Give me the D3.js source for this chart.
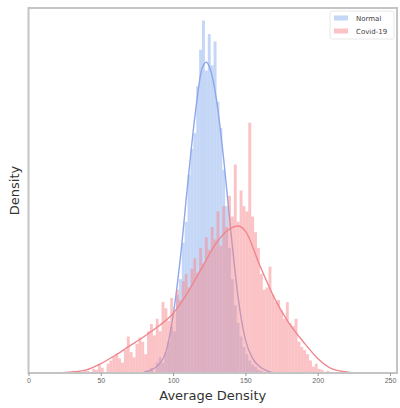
<!DOCTYPE html>
<html>
<head>
<meta charset="utf-8">
<script src="https://cdn.jsdelivr.net/npm/d3@7"></script>
<style>
  html, body { margin: 0; padding: 0; background: #fff; }
  svg { display: block; font-family: "DejaVu Sans", sans-serif; }
</style>
</head>
<body>
<svg id="chart" width="400" height="408"></svg>
<script>
const BIN_WIDTH = 2

// histogram bins: left edge of bin and density
const normalBinStarts = [84, 86, 88, 90, 92, 94, 96, 98, 100, 102, 104, 106, 108, 110, 112, 114, 116, 118, 120, 122,
  124, 126, 128, 130, 132, 134, 136, 138, 140, 142, 144, 146, 148, 150, 152, 154, 156, 158, 160, 162]
const normalBinDensity = [0.0005, 0.0, 0.001, 0.0015, 0.001, 0.002, 0.003, 0.0045, 0.004, 0.0075, 0.009, 0.0125, 0.0145, 0.019, 0.0215, 0.023, 0.0275, 0.031, 0.0338, 0.029,
  0.0325, 0.0295, 0.0318, 0.026, 0.0235, 0.0195, 0.016, 0.012, 0.009, 0.0065, 0.0048, 0.0035, 0.0025, 0.0018, 0.0012, 0.0008, 0.0006, 0.0003, 0.0002, 0.0001]

const covidBinStarts = [30, 32, 34, 36, 38, 40, 42, 44, 46, 48, 50, 52, 54, 56, 58, 60, 62, 64, 66, 68,
  70, 72, 74, 76, 78, 80, 82, 84, 86, 88, 90, 92, 94, 96, 98, 100, 102, 104, 106, 108,
  110, 112, 114, 116, 118, 120, 122, 124, 126, 128, 130, 132, 134, 136, 138, 140, 142, 144, 146, 148,
  150, 152, 154, 156, 158, 160, 162, 164, 166, 168, 170, 172, 174, 176, 178, 180, 182, 184, 186, 188,
  190, 192, 194, 196, 198, 200, 202, 204, 206, 208, 210, 212]
const covidBinDensity = [0.0002, 0, 0.0002, 0, 0.0003, 0.0002, 0, 0.0004, 0.0003, 0.0008, 0.0005, 0, 0.0009, 0.0012, 0.0016, 0.0018, 0.0014, 0.001, 0.0022, 0.0035,
  0.002, 0.0015, 0.0028, 0.0034, 0.003, 0.0018, 0.004, 0.0047, 0.0036, 0.0052, 0.004, 0.0068, 0.0062, 0.005, 0.0072, 0.0058, 0.008, 0.007, 0.0088, 0.0095,
  0.0082, 0.01, 0.011, 0.0096, 0.012, 0.0105, 0.013, 0.0118, 0.014, 0.0128, 0.0155, 0.0122, 0.016, 0.014, 0.017, 0.015, 0.02, 0.0145, 0.0175, 0.016,
  0.0155, 0.024, 0.015, 0.0135, 0.012, 0.0095, 0.008, 0.0082, 0.0102, 0.0075, 0.0068, 0.007, 0.006, 0.0052, 0.0068, 0.0048, 0.0045, 0.0052, 0.003, 0.0025,
  0.0022, 0.0018, 0.0012, 0.0006, 0.0009, 0.0004, 0.0003, 0, 0.0002, 0.0001, 0, 0.0001]

// kde curves
const normalKdeX = [80, 85, 90, 95, 100, 105, 110, 115, 120, 123, 126, 130, 135, 140, 145, 150, 155, 160, 165, 170]
const normalKdeY = [0.0001, 0.0003, 0.0008, 0.002, 0.0055, 0.011, 0.018, 0.0245, 0.0292, 0.0298, 0.029, 0.0262, 0.0205, 0.0135, 0.0072, 0.0032, 0.0014, 0.0006, 0.0002, 0.0]

const covidKdeX = [20, 30, 40, 50, 60, 70, 80, 90, 100, 110, 120, 130, 140, 145, 150, 160, 170, 180, 190, 200, 210, 220, 225]
const covidKdeY = [0.0, 0.0001, 0.0003, 0.0009, 0.0017, 0.0026, 0.0035, 0.0045, 0.0057, 0.0077, 0.0101, 0.0125, 0.0139, 0.0141, 0.0136, 0.0103, 0.0072, 0.0048, 0.003, 0.0014, 0.0004, 0.0001, 0]

const xTicks = [0, 50, 100, 150, 200, 250]
const seriesNames = ["Normal", "Covid-19"]

const colors = {
  normalBar: "#8cb0f0",
  normalLine: "#8ea6ea",
  covidBar: "#f7878b",
  covidLine: "#f0868e"
}

const svg = d3.select("#chart")
const plot = { left: 28.5, right: 397, top: 8, bottom: 373 }

const scaleX = d3.scaleLinear().domain([0, 250]).range([plot.left, 390])
const scaleY = d3.scaleLinear().domain([0, 0.035]).range([plot.bottom, plot.top])

const g = svg.append("g")
g.append("defs").append("clipPath").attr("id", "clip")
  .append("rect")
  .attr("x", plot.left).attr("y", plot.top)
  .attr("width", plot.right - plot.left).attr("height", plot.bottom - plot.top)

const body = g.append("g").attr("clip-path", "url(#clip)")

function drawHist(starts, dens, color) {
  body.append("g")
    .selectAll("rect")
    .data(starts.map((s, i) => ({ s, d: dens[i] })))
    .enter()
    .append("rect")
    .attr("x", d => scaleX(d.s))
    .attr("width", d => scaleX(d.s + BIN_WIDTH) - scaleX(d.s))
    .attr("y", d => scaleY(d.d))
    .attr("height", d => scaleY(0) - scaleY(d.d))
    .attr("fill", color)
    .attr("fill-opacity", 0.5)
}

function drawKde(xs, ys, color) {
  const line = d3.line()
    .curve(d3.curveMonotoneX)
    .x(d => scaleX(d[0]))
    .y(d => scaleY(d[1]))
  body.append("path")
    .datum(xs.map((x, i) => [x, ys[i]]))
    .attr("fill", "none")
    .attr("stroke", color)
    .attr("stroke-width", 1.4)
    .attr("d", line)
}

drawHist(normalBinStarts, normalBinDensity, colors.normalBar)
drawKde(normalKdeX, normalKdeY, colors.normalLine)
drawHist(covidBinStarts, covidBinDensity, colors.covidBar)
drawKde(covidKdeX, covidKdeY, colors.covidLine)

// frame
g.append("rect")
  .attr("x", plot.left).attr("y", plot.top)
  .attr("width", plot.right - plot.left).attr("height", plot.bottom - plot.top)
  .attr("fill", "none")
  .attr("stroke", "#c4c4c4")
  .attr("stroke-width", 2)

// x axis
const xAxis = g.append("g")
  .attr("transform", `translate(0,${plot.bottom})`)
  .call(d3.axisBottom(scaleX).tickValues(xTicks).tickSize(3).tickPadding(2))
xAxis.select(".domain").remove()
xAxis.selectAll(".tick line").attr("stroke", "#999")
xAxis.selectAll(".tick text")
  .attr("fill", "#666")
  .attr("font-size", 7)

g.append("text")
  .attr("x", (plot.left + plot.right) / 2)
  .attr("y", 400)
  .attr("text-anchor", "middle")
  .attr("font-size", 13)
  .attr("fill", "#333")
  .text("Average Density")

g.append("text")
  .attr("transform", `translate(19,${(plot.top + plot.bottom) / 2}) rotate(-90)`)
  .attr("text-anchor", "middle")
  .attr("font-size", 13)
  .attr("fill", "#333")
  .text("Density")

// legend
const legend = g.append("g").attr("transform", "translate(330,11)")
legend.append("rect")
  .attr("width", 64).attr("height", 28)
  .attr("fill", "#fff").attr("fill-opacity", 0.8)
  .attr("stroke", "#e2e2e2").attr("stroke-width", 0.8).attr("rx", 2)
const legendColors = [colors.normalBar, colors.covidBar]
seriesNames.forEach((name, i) => {
  const row = legend.append("g").attr("transform", `translate(4,${7 + i * 13})`)
  row.append("rect")
    .attr("x", 0).attr("y", -2.5).attr("width", 14).attr("height", 5)
    .attr("fill", legendColors[i]).attr("fill-opacity", 0.5)
  row.append("text")
    .attr("x", 22).attr("y", 2.5)
    .attr("font-size", 7)
    .attr("fill", "#444")
    .text(name)
})
</script>
</body>
</html>
